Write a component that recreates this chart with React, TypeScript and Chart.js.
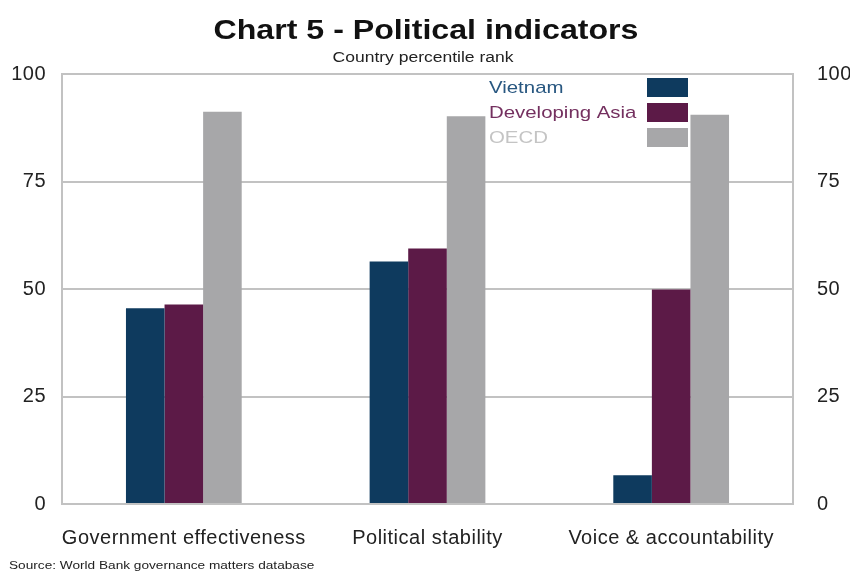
import { useEffect, useRef } from "react";
import { Chart, registerables } from "chart.js";

Chart.register(...registerables);

const categories = ["Government effectiveness", "Political stability", "Voice & accountability"];
const vietnam = [45.5, 56.4, 6.7];
const developingAsia = [46.4, 59.4, 49.9];
const oecd = [91.2, 90.2, 90.5];
const yTicks = [0, 25, 50, 75, 100];

const seriesNames = ["Vietnam", "Developing Asia", "OECD"];
const barColors = ["#0e3a5e", "#5c1a47", "#a7a7a9"];
const legendTextColors = ["#285780", "#74305f", "#c4c4c4"];

const FONT = "'Liberation Sans', Arial, Helvetica, sans-serif";

// Draws text with a horizontal stretch (wide-set typography).
function wideText(
  ctx: CanvasRenderingContext2D,
  text: string,
  x: number,
  y: number,
  font: string,
  color: string,
  sx: number,
  align: CanvasTextAlign
) {
  ctx.save();
  ctx.translate(x, y);
  ctx.scale(sx, 1);
  ctx.font = font;
  ctx.fillStyle = color;
  ctx.textAlign = align;
  ctx.textBaseline = "middle";
  ctx.fillText(text, 0, 0);
  ctx.restore();
}

const spacingPlugin = {
  id: "spacing",
  beforeDraw(chart: any) {
    (chart.ctx as any).letterSpacing = "0.5px";
  },
};

const decorPlugin = {
  id: "decor",
  afterDraw(chart: any) {
    const ctx = chart.ctx as CanvasRenderingContext2D;
    ctx.save();
    (ctx as any).letterSpacing = "0px";
    wideText(ctx, "Chart 5 - Political indicators", 426, 32, `bold 27px ${FONT}`, "#111", 1.19, "center");
    wideText(ctx, "Country percentile rank", 423, 58, `14px ${FONT}`, "#222", 1.25, "center");

    seriesNames.forEach((name, i) => {
      const y = 88 + i * 25;
      wideText(ctx, name, 489, y, `17px ${FONT}`, legendTextColors[i], 1.2, "left");
      ctx.fillStyle = barColors[i];
      ctx.fillRect(647, y - 10, 41, 19);
    });

    wideText(ctx, "Source: World Bank governance matters database", 9, 566, `11px ${FONT}`, "#222", 1.24, "left");
    ctx.restore();
  },
};

export default function App() {
  const canvasRef = useRef<HTMLCanvasElement | null>(null);

  useEffect(() => {
    if (!canvasRef.current) return;
    const mk = (label: string, data: number[], i: number) => ({
      label,
      data,
      backgroundColor: barColors[i],
      borderWidth: 0,
      categoryPercentage: 0.475,
      barPercentage: 1,
    });
    const tickFont = { family: FONT, size: 20 };
    const chart = new Chart(canvasRef.current, {
      type: "bar",
      data: {
        labels: categories,
        datasets: [
          mk(seriesNames[0], vietnam, 0),
          mk(seriesNames[1], developingAsia, 1),
          mk(seriesNames[2], oecd, 2),
        ],
      },
      options: {
        responsive: false,
        animation: false,
        layout: { padding: { top: 74, left: 0, right: 0, bottom: 0 } },
        plugins: {
          legend: { display: false },
          title: { display: false },
          tooltip: { enabled: false },
        },
        scales: {
          x: {
            grid: { display: false, drawTicks: false },
            border: { display: false },
            ticks: { color: "#222", font: tickFont, padding: 22 },
            afterFit: (s: any) => {
              s.height = 68;
            },
          },
          y: {
            position: "left",
            min: 0,
            max: 100,
            afterBuildTicks: (s: any) => {
              s.ticks = yTicks.map((v) => ({ value: v }));
            },
            grid: { color: "#c2c2c2", lineWidth: 2, drawTicks: false },
            border: { display: true, color: "#c2c2c2", width: 2 },
            ticks: { color: "#222", font: tickFont, padding: 16 },
            afterFit: (s: any) => {
              s.width = 62;
            },
          },
          y2: {
            position: "right",
            min: 0,
            max: 100,
            afterBuildTicks: (s: any) => {
              s.ticks = yTicks.map((v) => ({ value: v }));
            },
            grid: { display: false, drawTicks: false },
            border: { display: true, color: "#c2c2c2", width: 2 },
            ticks: { color: "#222", font: tickFont, padding: 24 },
            afterFit: (s: any) => {
              s.width = 57;
            },
          },
        },
      },
      plugins: [spacingPlugin, decorPlugin],
    });
    return () => chart.destroy();
  }, []);

  return (
    <div style={{ position: "fixed", left: 0, top: 0, width: 850, height: 572, background: "#fff" }}>
      <canvas ref={canvasRef} width={850} height={572} />
    </div>
  );
}
